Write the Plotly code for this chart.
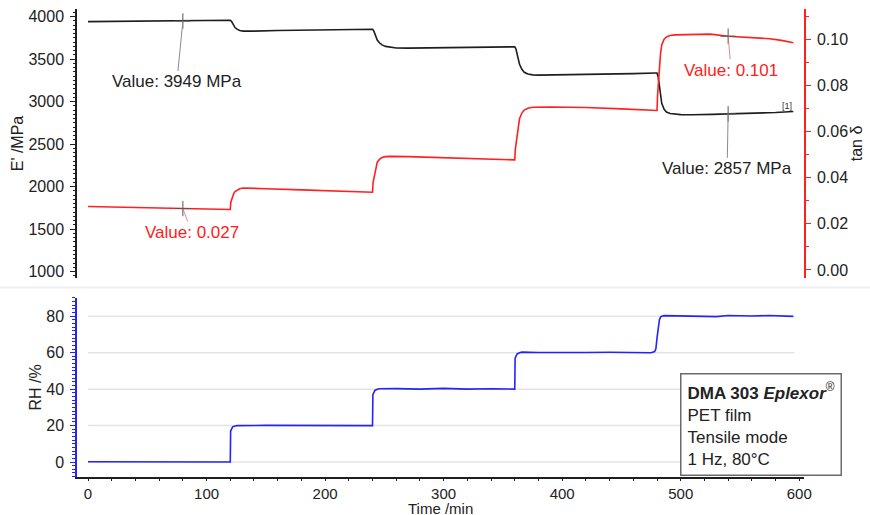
import numpy as np
import plotly.graph_objects as go

# ---------------- data ----------------
t_E = [0, 20, 40, 60, 80, 100, 119, 120, 121, 122, 123, 124, 126, 128, 131, 135, 140, 160, 200, 239,
       240, 241, 242, 243, 244, 246, 248, 251, 255, 260, 270, 300, 330, 359,
       360, 361, 362, 363, 364, 366, 368, 371, 375, 380, 400, 430, 460, 479,
       480, 481, 482, 483, 484, 486, 488, 491, 495, 500, 510, 520, 523, 527, 540, 560, 580, 595]
E_mod = [3942, 3944, 3946, 3948, 3949, 3953, 3958, 3958, 3945, 3915, 3890, 3872, 3850, 3838, 3830, 3828, 3830, 3837, 3845, 3852,
         3852, 3835, 3800, 3760, 3725, 3690, 3668, 3650, 3638, 3632, 3630, 3634, 3638, 3645,
         3645, 3620, 3570, 3500, 3440, 3380, 3345, 3325, 3315, 3312, 3315, 3322, 3330, 3338,
         3338, 3290, 3180, 3060, 2980, 2910, 2878, 2860, 2852, 2848, 2847, 2850, 2843, 2851, 2857, 2862, 2872, 2885]

t_tan = [0, 40, 80, 119, 120, 120.5, 121, 122, 123, 124, 126, 128, 131, 135, 150, 180, 210, 239,
         240, 240.5, 241, 242, 243, 244, 246, 248, 251, 255, 270, 300, 330, 359,
         360, 360.5, 361, 362, 363, 364, 366, 368, 371, 375, 390, 420, 450, 479,
         480, 480.5, 481, 482, 483, 484, 486, 488, 491, 495, 505, 515, 525, 540, 560, 575, 585, 595]
tan_delta = [0.0275, 0.0270, 0.0266, 0.0261, 0.0262, 0.0295, 0.0305, 0.0320, 0.0332, 0.0340, 0.0348, 0.0352, 0.0355, 0.0355, 0.0352, 0.0347, 0.0342, 0.0337,
             0.0337, 0.0380, 0.0395, 0.0425, 0.0450, 0.0467, 0.0480, 0.0487, 0.0491, 0.0492, 0.0491, 0.0487, 0.0482, 0.0477,
             0.0477, 0.0525, 0.0545, 0.0590, 0.0630, 0.0655, 0.0680, 0.0693, 0.0701, 0.0705, 0.0706, 0.0704, 0.0698, 0.0691,
             0.0691, 0.0760, 0.0800, 0.0880, 0.0940, 0.0975, 0.1000, 0.1010, 0.1016, 0.1019, 0.1021, 0.1020, 0.1022, 0.1013, 0.1008, 0.1002, 0.0995, 0.0985]

t_RH = [0, 20, 25, 119.5, 120, 120.3, 121, 122, 124, 126, 150, 180, 210, 239.5,
        240, 240.3, 241, 242, 244, 246, 260, 280, 300, 320, 340, 359.5,
        360, 360.3, 361, 362, 364, 366, 380, 400, 420, 440, 460, 475, 478, 479, 480, 481, 482, 483, 484, 486,
        500, 520, 530, 540, 560, 575, 590, 595]
RH = [0.2, 0.2, 0, 0, 0, 17, 18.5, 19.3, 19.8, 20, 20.1, 20, 20, 20,
      20, 37, 38.5, 39.3, 39.9, 40.2, 40.3, 40.0, 40.4, 40.0, 40.2, 40,
      40, 57, 58.5, 59.3, 60, 60.3, 60.1, 60.3, 60.1, 60.2, 60, 60, 60.6, 62, 68, 74, 78, 79.5, 80, 80.3,
      80.1, 80.2, 79.8, 80.4, 80.1, 80.4, 80, 79.9]

x_ticks = [0, 100, 200, 300, 400, 500, 600]
E_ticks = [1000, 1500, 2000, 2500, 3000, 3500, 4000]
tan_ticks = [0.00, 0.02, 0.04, 0.06, 0.08, 0.10]
RH_ticks = [0, 20, 40, 60, 80]

mark_times = [80, 540]
label_E = ["Value: 3949 MPa", "Value: 2857 MPa"]
label_tan = ["Value: 0.027", "Value: 0.101"]

# ---------------- figure ----------------
FONT = "Liberation Sans, Arial, sans-serif"
BLACK = "#1e1e1e"
RED = "#ff2020"
BLUE = "#2323ff"

fig = go.Figure()

fig.add_trace(go.Scatter(x=t_RH, y=RH, mode="lines", line=dict(color=BLUE, width=1.6),
                         xaxis="x", yaxis="y", showlegend=False))
fig.add_trace(go.Scatter(x=t_tan, y=tan_delta, mode="lines", line=dict(color=RED, width=1.6),
                         xaxis="x2", yaxis="y3", showlegend=False))
fig.add_trace(go.Scatter(x=t_E, y=E_mod, mode="lines", line=dict(color=BLACK, width=1.6),
                         xaxis="x2", yaxis="y2", showlegend=False))

E_marks = [float(np.interp(m, t_E, E_mod)) for m in mark_times]
tan_marks = [float(np.interp(m, t_tan, tan_delta)) for m in mark_times]
fig.add_trace(go.Scatter(x=mark_times, y=E_marks, mode="markers",
                         marker=dict(symbol="cross-thin", size=11, line=dict(color="#555", width=1)),
                         xaxis="x2", yaxis="y2", showlegend=False))
fig.add_trace(go.Scatter(x=mark_times, y=tan_marks, mode="markers",
                         marker=dict(symbol="cross-thin", size=11, line=dict(color="#555", width=1)),
                         xaxis="x2", yaxis="y3", showlegend=False))

annotations = []
for (m, v, txt, ax, ay) in zip(mark_times, E_marks, label_E, [-6, -1], [61, 55]):
    annotations.append(dict(x=m, y=v, xref="x2", yref="y2", text=txt, showarrow=True,
                            arrowhead=0, arrowwidth=1, arrowcolor="#8a8a8a", ax=ax, ay=ay,
                            font=dict(family=FONT, size=17, color="#222")))
for (m, v, txt, ax, ay) in zip(mark_times, tan_marks, label_tan, [9, 3], [24, 34]):
    annotations.append(dict(x=m, y=v, xref="x2", yref="y3", text=txt, showarrow=True,
                            arrowhead=0, arrowwidth=1, arrowcolor="rgba(220,110,110,0.8)", ax=ax, ay=ay,
                            font=dict(family=FONT, size=17, color=RED)))
annotations.append(dict(x=590, y=2955, xref="x2", yref="y2", text="[1]", showarrow=False,
                        font=dict(family=FONT, size=9, color="#333")))
annotations.append(dict(x=0.829, y=0.222, xref="paper", yref="paper", xanchor="left", yanchor="top",
                        text="<b>DMA 303 <i>Eplexor</i></b><sup>®</sup><br>PET film<br>Tensile mode<br>1 Hz, 80°C",
                        align="left", showarrow=False, bgcolor="white", bordercolor="#6a6a6a",
                        borderwidth=1.5, borderpad=6, font=dict(family=FONT, size=17, color="#222")))
annotations.append(dict(x=0.5, y=-0.0675, xref="paper", yref="paper", xanchor="center", yanchor="middle",
                        text="Time /min", showarrow=False, font=dict(family=FONT, size=15, color="#222")))

shapes = []
for g in RH_ticks:
    shapes.append(dict(type="line", xref="x", yref="y", x0=0, x1=596, y0=g, y1=g,
                       line=dict(color="#e4e4e4", width=1.5), layer="below"))
shapes.append(dict(type="line", xref="paper", yref="paper", x0=-0.11, x1=1.1, y0=0.405, y1=0.405,
                   line=dict(color="#efefef", width=2), layer="below"))

tick_font = dict(family=FONT, size=16, color="#222")
title_font = dict(family=FONT, size=16, color="#222")

fig.update_layout(
    width=870, height=515, autosize=False,
    margin=dict(l=77, r=66, t=9, b=38),
    paper_bgcolor="white", plot_bgcolor="white",
    showlegend=False,
    font=dict(family=FONT),
    xaxis=dict(domain=[0, 1], anchor="y", range=[-9.3, 604], tickvals=x_ticks, automargin=False,
               showgrid=False, zeroline=False, showline=True, linecolor=BLACK, linewidth=1.5,
               ticks="outside", ticklen=2, tickcolor=BLACK, tickfont=dict(family=FONT, size=15, color="#222"),
               minor=dict(dtick=20, tick0=0, ticks="outside", ticklen=2, tickcolor=BLACK)),
    yaxis=dict(domain=[0, 0.3825], anchor="x", range=[-8.2, 90], tickvals=RH_ticks, automargin=False,
               showgrid=False, zeroline=False, showline=True, linecolor=BLUE, linewidth=1.5,
               ticks="outside", ticklen=5, tickcolor=BLUE, tickfont=tick_font, ticklabelstandoff=3,
               minor=dict(dtick=2, tick0=0, ticks="outside", ticklen=3, tickcolor=BLUE),
               title=dict(text="RH /%", font=title_font, standoff=1)),
    xaxis2=dict(domain=[0, 1], anchor="y2", matches="x", visible=False, automargin=False),
    yaxis2=dict(domain=[0.4252, 1], anchor="x2", range=[926, 4090], tickvals=E_ticks, automargin=False,
                showgrid=False, zeroline=False, showline=True, linecolor=BLACK, linewidth=1.5,
                ticks="outside", ticklen=5, tickcolor=BLACK, tickfont=tick_font, ticklabelstandoff=3,
                minor=dict(dtick=50, tick0=1000, ticks="outside", ticklen=2.5, tickcolor=BLACK),
                title=dict(text="E' /MPa", font=title_font, standoff=1)),
    yaxis3=dict(overlaying="y2", anchor="x2", side="right", range=[-0.0035, 0.1131], automargin=False,
                tickvals=tan_ticks, tickformat=".2f",
                showgrid=False, zeroline=False, showline=True, linecolor=RED, linewidth=1.5,
                ticks="outside", ticklen=5, tickcolor=RED, tickfont=tick_font, ticklabelstandoff=3,
                minor=dict(dtick=0.01, tick0=0, ticks="outside", ticklen=3, tickcolor=RED),
                title=dict(text="tan δ", font=title_font, standoff=3)),
    annotations=annotations,
    shapes=shapes,
)

fig.write_html("out.html",
               config={"displayModeBar": False, "responsive": False},
               post_script="document.body.style.margin='0';document.body.style.overflow='hidden';")
